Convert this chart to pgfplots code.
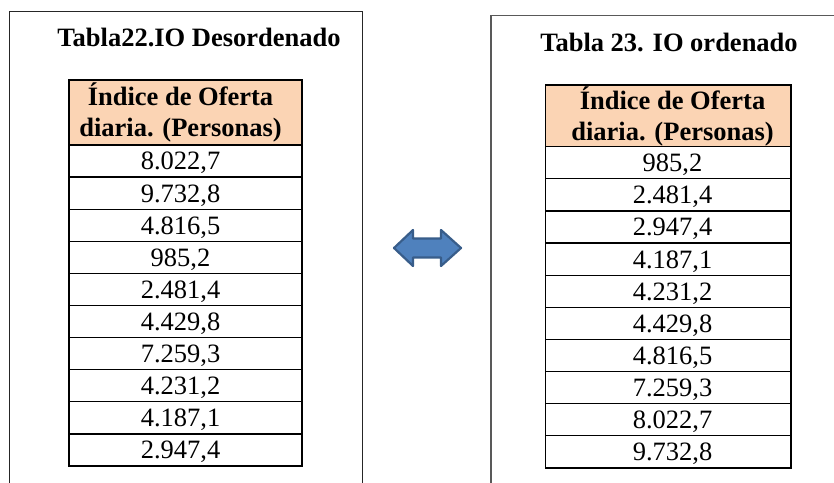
\documentclass[border=0pt]{standalone}
\usepackage{pgfplots}
\pgfplotsset{compat=1.18}
\usepackage{fontspec}
\setmainfont{Liberation Serif}
\definecolor{hdr}{HTML}{FBD4B4}
\definecolor{arrfill}{HTML}{4F81BD}
\definecolor{arrline}{HTML}{385D8A}
\definecolor{frameL}{HTML}{262626}
\definecolor{frameR}{HTML}{595959}
\newcommand{\bigfont}{\fontsize{26.5bp}{30bp}\selectfont}
\begin{document}
\begin{tikzpicture}[x=1bp,y=1bp]
\useasboundingbox (0,0) rectangle (834,483);
\begin{axis}[at={(0,0)}, anchor=south west, width=834bp, height=483bp,
  scale only axis, xmin=0, xmax=834, ymin=0, ymax=483, y dir=reverse,
  hide axis, clip=false,
  /pgf/number format/assume math mode=true,
  nodes near coords={\pgfmathprintnumber[fixed,fixed zerofill,precision=1,use comma,1000 sep={.}]{\pgfplotspointmeta}},
  every node near coord/.append style={anchor=base, inner sep=0pt, font=\bigfont, text=black},
]
% outer frames
\draw[frameL, line width=1bp] (axis cs:9.5,490) -- (axis cs:9.5,11.5) -- (axis cs:362,11.5) -- (axis cs:362,490);
\draw[frameR, line width=1.6bp] (axis cs:490.7,490) -- (axis cs:490.7,15.7) -- (axis cs:840,15.7);
% titles
\node[anchor=base, font=\bfseries\bigfont] at (axis cs:199,46.7) {Tabla22.IO Desordenado};
\node[anchor=base, font=\bfseries\bigfont] at (axis cs:669,51.7) {Tabla 23. IO ordenado};
% left table
\fill[hdr] (axis cs:69,80) rectangle (axis cs:302,145);
\pgfplotsinvokeforeach{1,...,9}{\draw[black, line width=1.2bp] (axis cs:69,{145+32.1*#1}) -- (axis cs:302,{145+32.1*#1});}
\draw[black, line width=1.3bp] (axis cs:69,145) -- (axis cs:302,145);
\draw[black, line width=1.3bp] (axis cs:69,80) rectangle (axis cs:302,466);
\node[anchor=base, font=\bfseries\bigfont] at (axis cs:180.5,106) {Índice de Oferta};
\node[anchor=base, font=\bfseries\bigfont] at (axis cs:180.5,137) {diaria. (Personas)};
% right table
\fill[hdr] (axis cs:545.7,85) rectangle (axis cs:791,146.7);
\pgfplotsinvokeforeach{1,...,9}{\draw[black, line width=1.2bp] (axis cs:545.7,{146.7+32.13*#1}) -- (axis cs:791,{146.7+32.13*#1});}
\draw[black, line width=1.3bp] (axis cs:545.7,146.7) -- (axis cs:791,146.7);
\draw[black, line width=1.3bp] (axis cs:545.7,85) rectangle (axis cs:791,468);
\node[anchor=base, font=\bfseries\bigfont] at (axis cs:672.5,110) {Índice de Oferta};
\node[anchor=base, font=\bfseries\bigfont] at (axis cs:672.5,141) {diaria. (Personas)};
% arrow
\filldraw[fill=arrfill, draw=arrline, line width=2.2bp, line join=round]
 (axis cs:394,248) -- (axis cs:413,230) -- (axis cs:413,238.5) -- (axis cs:441,238.5) -- (axis cs:441,230)
 -- (axis cs:461,248) -- (axis cs:441,266) -- (axis cs:441,257.5) -- (axis cs:413,257.5) -- (axis cs:413,266) -- cycle;
% values
\addplot[only marks, mark=text, text mark={}, point meta=explicit]
 table[x expr=180.5, y expr={170+32.1*\coordindex}, meta=v] {
v
8022.7
9732.8
4816.5
985.2
2481.4
4429.8
7259.3
4231.2
4187.1
2947.4
};
\addplot[only marks, mark=text, text mark={}, point meta=explicit]
 table[x expr=672.5, y expr={171.7+32.13*\coordindex}, meta=v] {
v
985.2
2481.4
2947.4
4187.1
4231.2
4429.8
4816.5
7259.3
8022.7
9732.8
};
\end{axis}
\end{tikzpicture}
\end{document}
